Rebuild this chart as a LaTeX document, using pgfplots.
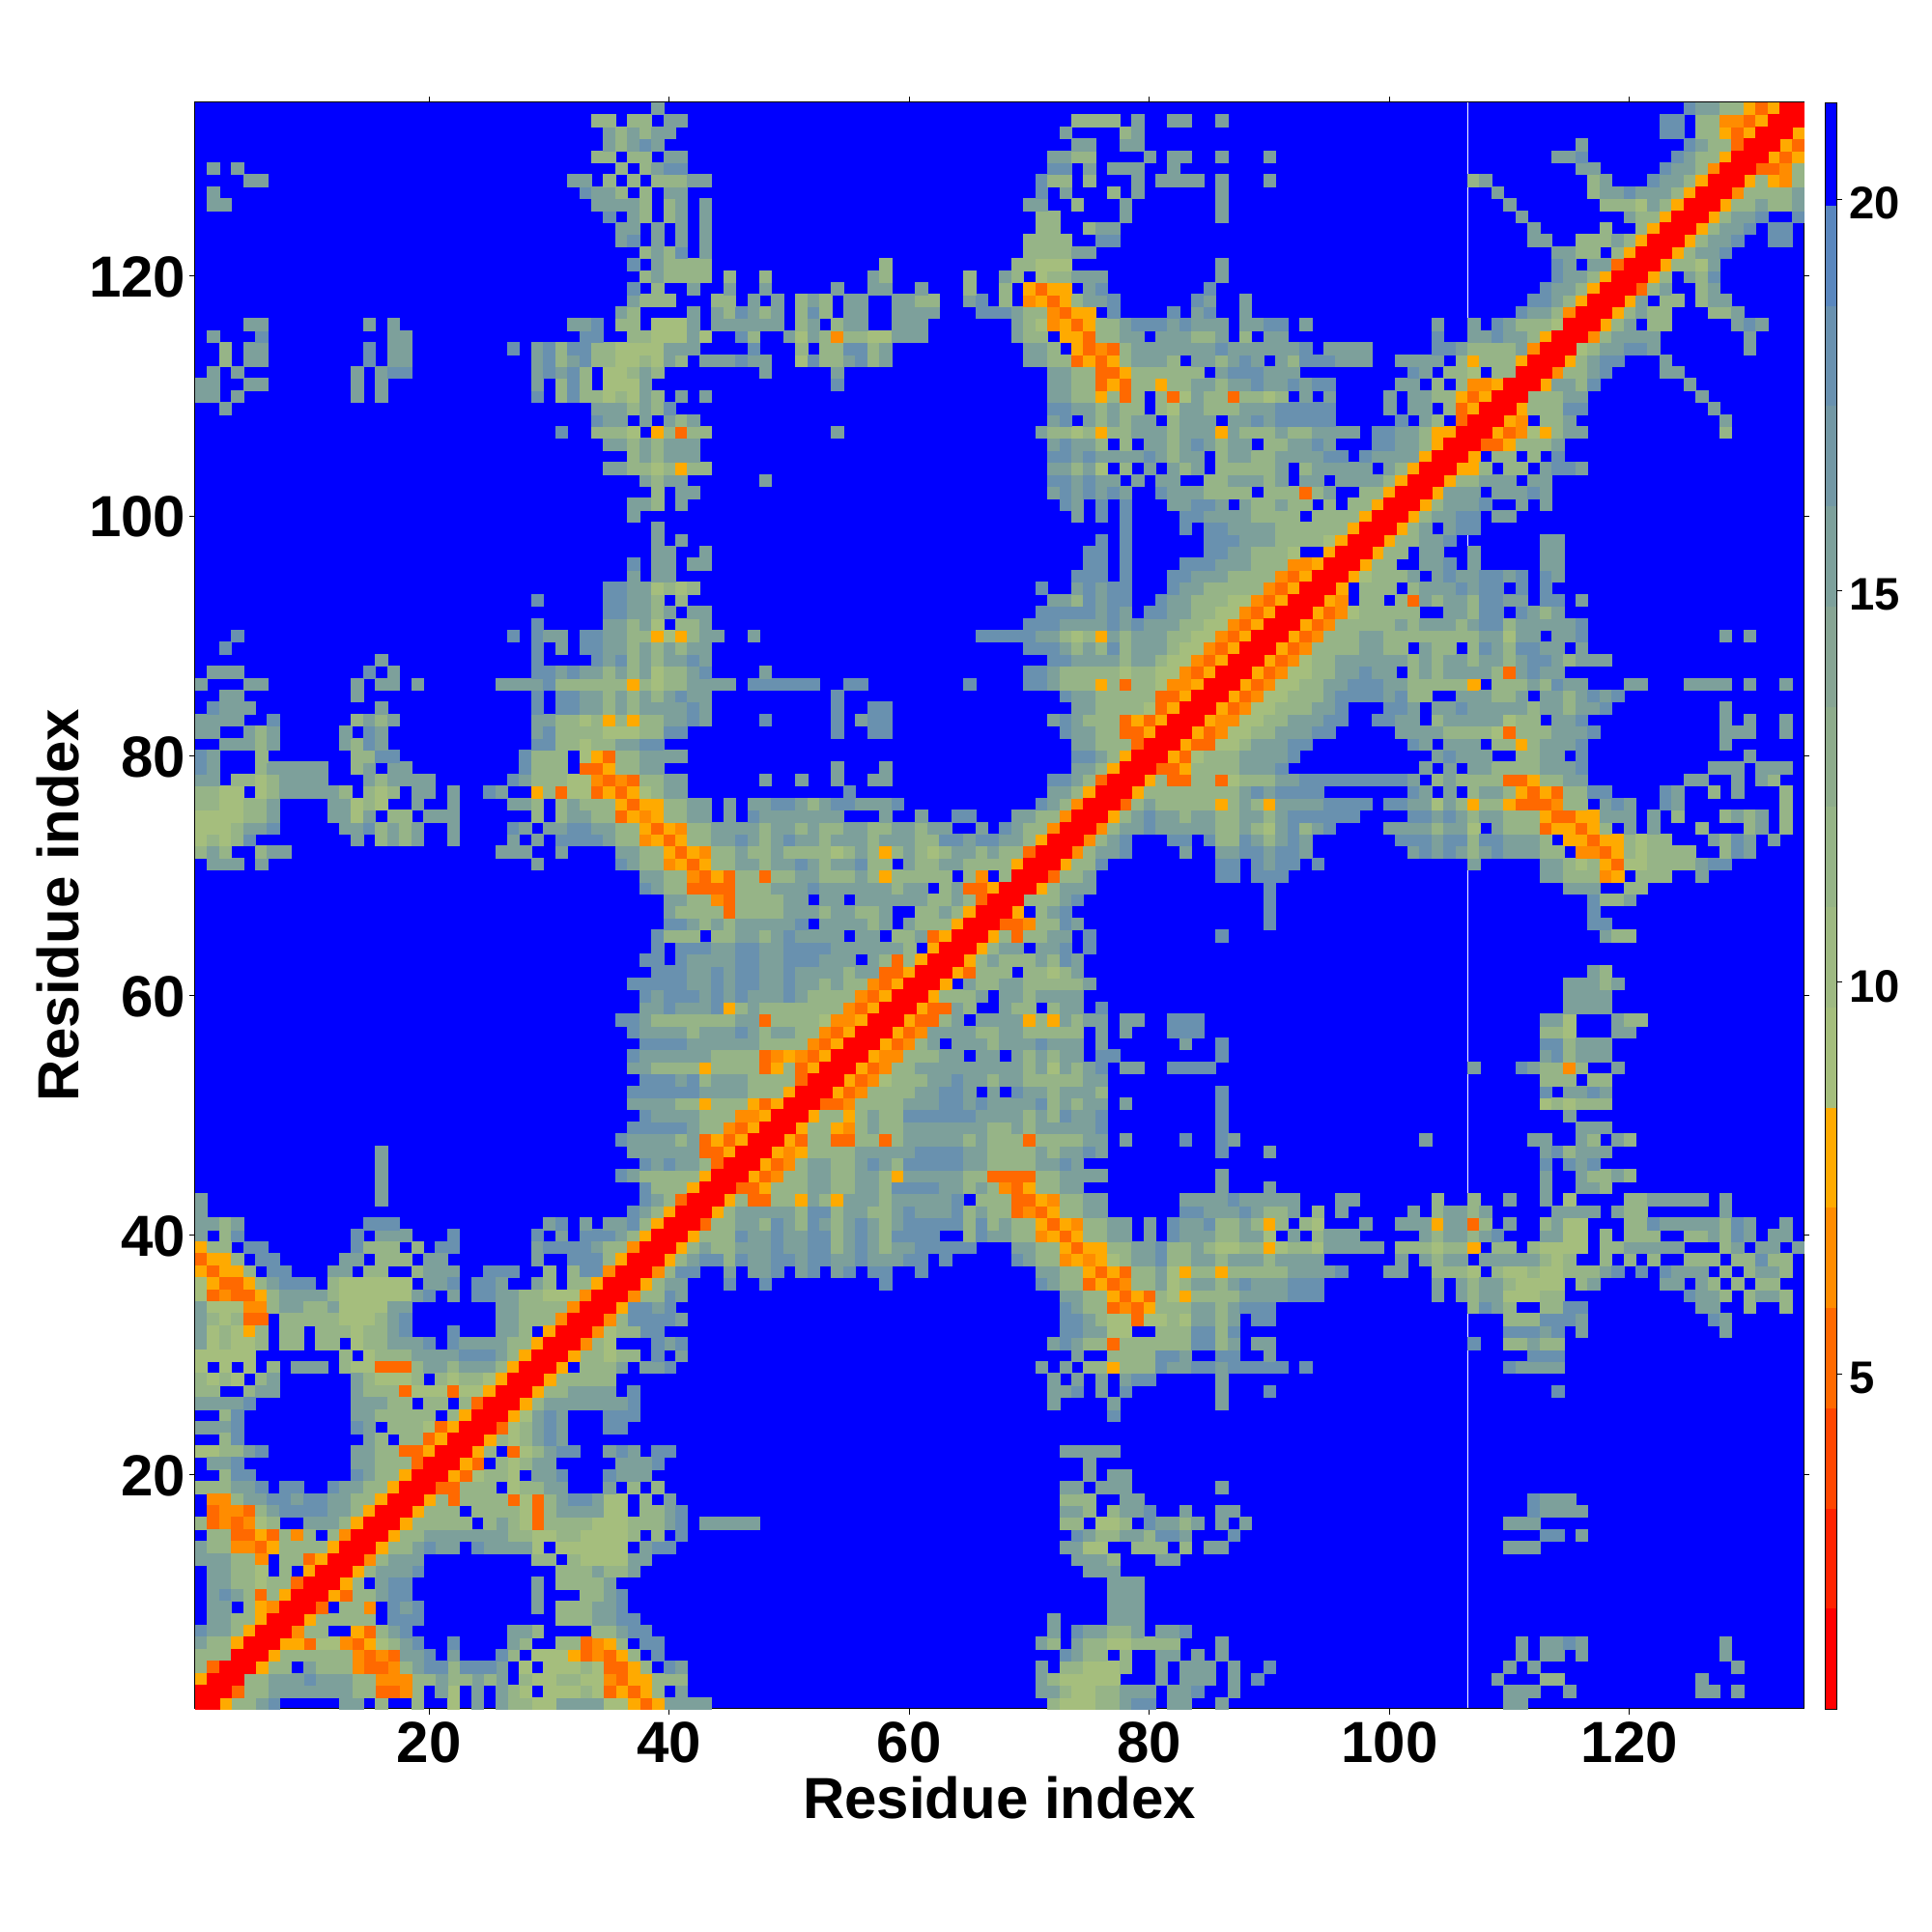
\documentclass[border=0pt]{standalone}
\usepackage{fontspec}
\setmainfont{Liberation Sans}
\usepackage{pgfplots}
\pgfplotsset{compat=1.18}

% distances are typed row by row, upper left triangle only (the map is symmetric)
% \R{y}{first x}{values}, 21 = blue = nothing to draw
\newcount\cx
\def\pts{}
\def\Rnext#1 {\ifx.#1\else\ifnum#1<21 \edef\rowp{\rowp (\the\cx,\ry) [#1] (\ry,\the\cx) [#1] }\fi\advance\cx by 1 \expandafter\Rnext\fi}
\def\R#1#2#3{\def\ry{#1}\cx=#2\relax\def\rowp{}\Rnext#3 . \xdef\pts{\pts\rowp}}
\newcount\cy
\def\Bnext#1 {\ifx.#1\else\cy=\cx\advance\cy by \bd\relax\edef\rowp{\rowp (\the\cx,\the\cy) [#1] (\the\cy,\the\cx) [#1] }\advance\cx by 1 \expandafter\Bnext\fi}
\def\B#1#2{\def\bd{#1}\cx=1\relax\def\rowp{}\Bnext#2 . \xdef\pts{\pts\rowp}}

% x = 1..40, y = 3..40
\R{40}{1}{15 21 12 18}\R{40}{14}{18 21 15 15 15 21 21 21 18}\R{40}{29}{18 21 15 21 18 18 18 15 12 8}
\R{39}{1}{8 12 12 21 18 18}\R{39}{14}{18 12 12 12 21 12 21 18 18}\R{39}{29}{15 18 18 18 18 15 12 12 6}
\R{38}{1}{5 8 8 12 21 18 18}\R{38}{13}{15 15 21 12 12 12 21 15 15}\R{38}{29}{15 21 21 18 18 18 12 8}
\R{37}{1}{8 5 8 8 12 21 18 18}\R{37}{12}{15 15 21 12 12 21 21 12 15 15 15 21 21 18 18 18 21 21 12 21 12 18 18 6}
\R{36}{1}{9 8 5 5 8 12 15 18 18 18 21 12 9 9 9 9 9 9 21 15 15 18 21 18 18 15 21 21 15 12 21 12 12 8}
\R{35}{1}{9 5 6 5 5 8 12 15 15 15 15 12 9 9 9 9 9 9 15 18 21 15 21 18 18 15 15 12 12 9 9 9 6}
\R{34}{1}{15 9 9 9 6 6 12 15 15 12 12 15 9 9 9 9 15 15}\R{34}{26}{15 15 12 12 12 12 6}
\R{33}{1}{15 12 9 12 5 5 21 12 12 12 12 12 9 9 9 12 15 18}\R{33}{26}{15 15 12 12 12 6}
\R{32}{1}{15 9 12 9 8 12 21 12 12 21 12 12 12 9 12 12 15 18}\R{32}{22}{18}\R{32}{26}{15 15 12 21 8}
\R{31}{1}{15 9 12 9 9 12 21 12 12 21 12 12 21 9 12 12 15 15 15 18 21 18 15 15 15 15 12 12 8}
\R{30}{1}{9 9 9 9 9}\R{30}{13}{12 21 9 12 12 12 15 15 15 15 18 18 18 15 12 8}
\R{29}{1}{9 21 9 21 9 21 12 21 15 15 15 21 12 9 9 5 5 5 12 15 15 12 15 15 15 12 8}
\R{28}{1}{12 9 12 9 21 12 15}\R{28}{14}{15 12 9 9 9 12 21 12 9 12 12 9 8}
\R{27}{1}{12 12 21 21 12 15 15}\R{27}{14}{15 12 12 12 5 9 9 9 5 9 9 8}
\R{26}{1}{15 15 15 15 18}\R{26}{14}{15 15 15 12 12 21 12 12 21 12 5}
\R{25}{1}{21 21 12 18}\R{25}{14}{15 15 12 12 12 12 12 21 12 8}
\R{24}{1}{15 15 15 18}\R{24}{14}{18 15 21 12 12 12 9 5 8}
\R{23}{1}{21 21 12 18}\R{23}{15}{15 12 21 12 12 5 8}
\R{22}{1}{9 9 12 12 15 18}\R{22}{14}{15 15 12 12 5 5 8}
\R{21}{1}{21 15 15 18}\R{21}{14}{15 15 12 12 12 5}
\R{20}{1}{21 21 12 18 18}\R{20}{14}{18 15 12 12 8}
\R{19}{1}{12 12 12 15 15 18 21 18 18 21 21 18 15 15 12 12 8}
\R{18}{1}{21 6 6 12 15 15 18 18 15 18 18 15 15 12 12 8}
\R{17}{1}{21 5 6 6 5 12 15 18 18 18 18 15 15 12 8}
\R{16}{1}{12 5 6 5 6 9 12 21 21 15 15 15 12 8}
\R{15}{1}{21 12 12 5 5 8 5 12 6 12 21 12 6}
\R{14}{1}{15 12 12 6 6 5 8 12 12 12 12 8}
\R{13}{1}{15 15 15 12 12 6 21 12 12 5 8}
\R{12}{1}{21 15 15 12 12 9 21 12 21 8}
\R{11}{1}{21 15 15 12 12 9 12 12 5}
\R{10}{1}{21 15 18 15 12 5 12 8}
\R{9}{1}{21 15 15 21 12 8 6}
\R{8}{1}{21 15 15 12 12 8}
\R{7}{1}{18 15 15 12 8}
\R{6}{1}{15 12 12 8}
\R{5}{1}{12 12 12}
\R{4}{1}{12 5}
\R{3}{1}{8}

% x = 1..39, y = 41..67
\R{41}{1}{15 15 12 15}\R{41}{15}{18 18 18}\R{41}{30}{15 18 21 15 21 15 15 18 12 8}
\R{42}{1}{15}\R{42}{37}{18 15 12}
\R{43}{1}{15}\R{43}{16}{15}\R{43}{38}{18 15}
\R{44}{16}{15}\R{44}{38}{18 12}
\R{45}{16}{15}\R{45}{36}{18 15 12 12}
\R{46}{16}{15}\R{46}{38}{18 15}
\R{47}{16}{15}\R{47}{37}{15 15 15}
\R{48}{36}{18 15 15 15}
\R{49}{37}{18 18 18}
\R{50}{38}{18 15}
\R{51}{37}{15 15 15}
\R{52}{37}{18 18 18}
\R{53}{38}{18 18}
\R{54}{37}{15 15 12}
\R{55}{37}{18 15 15}
\R{56}{38}{18 18}
\R{57}{37}{18 15 15}
\R{58}{36}{18 18 15 12}
\R{59}{38}{15 15}
\R{60}{38}{18 15}
\R{61}{37}{18 18 18}
\R{62}{39}{18}
\R{63}{38}{18 18}
\R{64}{39}{18}
\R{65}{39}{18}

% x = 1..40, y = 67..107
\R{67}{40}{15}
\R{68}{40}{15}
\R{69}{38}{18 15 12}
\R{70}{38}{15 15 12}
\R{71}{2}{15 15 15 21 15}\R{71}{29}{15}\R{71}{36}{18 15 12 12 6}
\R{72}{1}{12 15 12 21 21 12 15 15}\R{72}{26}{15 15 15 21 21 15}\R{72}{36}{15 15 12 12 8}
\R{73}{1}{9 12 9 12 18}\R{73}{14}{15 21 12 15 12 15 21 21 15}\R{73}{27}{15 21 15 21 18 18 18 18 15 12 12 6 8 5}
\R{74}{1}{9 9 9 12 15 15 18}\R{74}{13}{15 15 18 12 15 12 15 21 21 15}\R{74}{27}{18 15 21 15 15 18 18 15 15 12 12 8 5 8}
\R{75}{1}{9 9 9 9 12 12 15}\R{75}{12}{15 15 9 15 21 12 12 21 15 15 15}\R{75}{29}{12 21 12 15 15 12 12 5 8 6 8 12}
\R{76}{1}{12 12 9 9 12 12 15}\R{76}{12}{15 15 9 12 9 21 21 15 21 21 15}\R{76}{27}{15 15 12 21 12 15 12 12 12 8 5 8 8 12}
\R{77}{1}{12 12 9 9 21 9 12 15 15 15 15 15 12 21 12 9 12 21 15 15 21 15}\R{77}{25}{18 15 21 21 8 12 5 9 9 5 8 5 8 9 12 15}
\R{78}{1}{15 15 21 12 12 9 12 15 15 15 15}\R{78}{15}{15 12 15 15 15 15}\R{78}{27}{18 15 12 12 12 9 9 6 5 6 5 12 12 15}
\R{79}{1}{18 15 21 21 21 12 15 15 15 15 15}\R{79}{14}{12 15 21 15 15}\R{79}{28}{18 12 12 12 21 5 5 8 12 12 15 15}
\R{80}{1}{18 15}\R{80}{6}{12}\R{80}{14}{12 12 18 18}\R{80}{28}{18 12 12 12 21 9 8 5 12 12 15 15 18}
\R{81}{3}{15 15 15 12 15}\R{81}{13}{15 12 18 15}\R{81}{29}{18 18 12 12 9 12 12 15 15 18 18}
\R{82}{1}{15 15 21 21 15 12 15}\R{82}{13}{15 21 18 15}\R{82}{29}{15 18 12 12 12 12 9 9 9 12 12 18}
\R{83}{1}{15 15 15 15 21 21 18}\R{83}{14}{12 15 12 15}\R{83}{29}{15 15 12 12 9 12 8 12 8 12 12 15}
\R{84}{2}{18 15 15 15}\R{84}{16}{15}\R{84}{29}{18 21 18 18 15 15 12 15 12 15 15 18}
\R{85}{3}{15 15}\R{85}{14}{15}\R{85}{29}{18 21 18 18 15 15 12 15 12 15 12 18}
\R{86}{1}{15 21 21 21 15 15}\R{86}{14}{15 21 15 15 21 15}\R{86}{26}{15 15 15 15 18 12 12 12 12 12 12 8 12 9 12}
\R{87}{2}{15 15 15}\R{87}{15}{18 21 15}\R{87}{29}{18 18 15 18 15 15 12 15 12 15 9 12}
\R{88}{16}{15}\R{88}{29}{18 21 21 21 21 18 15 18 12 15 12 15}
\R{89}{3}{18}\R{89}{29}{18 21 15 21 18 18 15 15 12 15 12 15}
\R{90}{4}{18}\R{90}{27}{18 21 18 15 15 21 18 18 15 15 12 12 8 9}
\R{91}{29}{18}\R{91}{35}{15 15 12 15 9 21}
\R{92}{35}{18 18 15 15 12 15}
\R{93}{29}{18}\R{93}{35}{18 18 15 15 12}
\R{94}{35}{18 18 15 15 9 12}
\R{95}{37}{15 21 15 15}
\R{96}{37}{18 21 15 15}
\R{97}{39}{15 15}
\R{98}{39}{15}
\R{99}{39}{15}
\R{100}{37}{15}
\R{101}{37}{15 15 12}
\R{102}{39}{12}
\R{103}{38}{15 12 15}
\R{104}{35}{15 15 12 12 9 12}
\R{105}{37}{12 15 12 15}
\R{106}{35}{15 15 12 15 12 15}
\R{107}{31}{18 21 21 12 12 12 9 21 8 12}

% x = 1..40, y = 108..134
\R{108}{34}{18 15 15 21 15 21 15}
\R{109}{3}{15}\R{109}{34}{15 15 15 12 15 12 15}
\R{110}{1}{15 15 21 15}\R{110}{14}{15 21 15}\R{110}{29}{18 21 12 18 12 12 9 12 9 15 12}
\R{111}{1}{15 15 21 21 15 15}\R{111}{14}{15 21 15}\R{111}{29}{15 21 12 18 12 21 9 9 9 15}
\R{112}{2}{15 21 15}\R{112}{14}{15 21 15 18 18}\R{112}{29}{15 18 15 18 12 21 9 9 12 15 12}
\R{113}{3}{12 21 15 15}\R{113}{15}{18 21 15 15}\R{113}{29}{15 18 12 15 18 12 12 9 9 12 9 15}
\R{114}{3}{12 21 15 15}\R{114}{15}{18 21 15 15}\R{114}{27}{18 21 15 18 12 18 18 12 12 9 9 9 9 15}
\R{115}{2}{15 21 21 21 18}\R{115}{17}{15 15}\R{115}{33}{18 18 21 21 12 12 9 12}
\R{116}{5}{15 15}\R{116}{15}{15 21 15}\R{116}{32}{15 15 18 21 12 12 21 9 9}
\R{117}{36}{15 12}
\R{118}{37}{15 12 12 12}
\R{119}{37}{18 21 12}
\R{120}{38}{12 15 12}
\R{121}{37}{18 21 15 12}
\R{122}{38}{12 15 12}
\R{123}{36}{15 18 21 15}
\R{124}{36}{15 15 21 15}
\R{125}{35}{18 21 15 12 21 12}
\R{126}{2}{15 15}\R{126}{34}{15 15 15 15 12 21 12}
\R{127}{2}{15}\R{127}{33}{18 15 15 12 21 12 21 15}
\R{128}{5}{15 15}\R{128}{32}{15 15 21 12 21 12 21 12 12}
\R{129}{2}{15 21 15}\R{129}{36}{12 21 12 15 18}
\R{130}{34}{12 12 21 12 12 21 15}
\R{131}{35}{15 12 15 18 15}
\R{132}{35}{15 12 15 12 15 18}
\R{133}{34}{12 12 21 12 12 21 15}
\R{134}{39}{15}

% x = 40..79, y = 42..79
\R{42}{40}{8}
\R{43}{40}{12 5}
\R{44}{40}{12 12 8}
\R{45}{40}{12 12 12 8}
\R{46}{40}{18 15 15 12 5}
\R{47}{40}{15 15 15 5 5 8}
\R{48}{40}{15 12 15 5 8 5 8}
\R{49}{40}{18 18 15 12 12 6 5 8}
\R{50}{40}{15 15 15 12 12 12 6 6 8}
\R{51}{40}{15 12 12 8 12 12 12 8 5 8}
\R{52}{40}{18 18 18 15 15 15 15 12 12 12 8}
\R{53}{40}{18 15 18 12 15 15 15 12 12 12 12 5}
\R{54}{40}{12 12 12 8 12 12 12 12 5 8 12 5 8}
\R{55}{40}{15 15 15 15 12 12 12 12 5 6 8 6 5 8}
\R{56}{40}{18 18 15 15 15 15 15 15 12 12 12 12 6 5 8}
\R{57}{40}{15 15 12 15 15 15 18 15 12 15 15 12 12 6 5 8}
\R{58}{40}{12 12 12 12 12 12 15 15 5 12 12 12 12 9 6 6 8}
\R{59}{40}{18 15 15 15 18 8 12 15 12 12 12 12 12 12 12 6 5 8}
\R{60}{40}{18 18 18 15 18 15 18 15 15 15 18 15 12 12 12 12 6 5 8}
\R{61}{40}{18 18 15 15 18 15 18 18 15 15 18 15 15 12 15 12 12 6 5 8}
\R{62}{40}{18 18 15 15 18 15 18 18 15 15 18 15 15 15 15 12 15 15 5 5 8}
\R{63}{40}{21 18 15 15 15 15 18 18 15 15 18 18 18 15 15 15 21 15 12 5 12 8}
\R{64}{40}{21 18 18 18 15 15 18 18 15 15 18 18 18 18 15 15 15 15 15 15 12 21 8}
\R{65}{40}{12 12 12 21 12 12 15 15 12 15 18 15 15 15 15 21 15 15 21 12 12 15 5 8}
\R{66}{40}{18 18 15 12 15 12 15 15 15 15 15 18 21 15 15 15 15 12 15 21 15 12 12 12 8}
\R{67}{40}{15 12 12 12 12 5 12 12 12 12 15 15 15 12 15 15 12 12 15 21 21 12 12 15 12 8}
\R{68}{40}{15 15 12 12 6 5 12 12 12 12 15 15 21 15 15 21 15 15 15 15 15 15 12 12 15 12 5}
\R{69}{40}{12 12 5 5 5 5 12 12 12 15 15 15 18 15 15 15 15 15 15 12 15 15 21 12 15 5 5 8}
\R{70}{40}{12 12 6 5 8 5 12 12 5 12 12 15 15 12 12 12 15 12 8 12 12 12 12 12 21 12 6 21 12 12 12}
\R{71}{40}{6 8 5 8 12 12 15 15 12 15 15 18 15 12 15 15 18 12 12 21 15 12 12 15 15 12 12 12 12 8}
\R{72}{40}{8 5 8 6 12 12 15 12 12 15 12 12 12 12 9 12 15 12 8 12 15 12 9 12 15 15 12 15 12 12 5}
\R{73}{40}{5 8 12 12 15 15 18 15 12 15 18 15 15 12 15 15 15 12 15 15 15 12 12 18 18 15 18 18 15 15 12 8}
\R{74}{40}{8 6 12 12 15 15 15 15 12 15 15 12 15 12 12 15 15 12 12 15 15 12 15 15 21 21 15 21 18 15 12 12 6}
\R{75}{40}{12 12 15 15 21 15 21 18 15 15 15 15 15 15 15 21 21 21 15 21 21 15 21 21 18 18 21 21 21 15 15 12 12 6}
\R{76}{40}{12 12 15 15 21 15 21 15 15 18 18 15 12 15 18 18 15 15 15 18}\R{76}{71}{18 15 12 6}
\R{77}{40}{15 15}\R{77}{55}{18}\R{77}{72}{15 15 12 8}
\R{78}{40}{15 15}\R{78}{48}{15}\R{78}{51}{15}\R{78}{54}{15}\R{78}{57}{15 15}\R{78}{72}{18 18 15 12 5}
\R{79}{54}{15}\R{79}{58}{15}\R{79}{74}{15 15 12 8}

% x = 40..79, y = 80..134
\R{80}{40}{15 15}\R{80}{74}{18 18 15 12 8}
\R{81}{74}{15 15 12 12 12 5}
\R{82}{40}{18 18}\R{82}{54}{18}\R{82}{57}{18 18}\R{82}{73}{18 15 15 12 12 5 5}
\R{83}{40}{15 15 18 15}\R{83}{48}{18}\R{83}{54}{18}\R{83}{56}{15 18 18}\R{83}{72}{15 18 15 12 12 12 5 8}
\R{84}{40}{15 15 18 15}\R{84}{54}{18}\R{84}{57}{18 18}\R{84}{74}{15 15 12 12 12 12}
\R{85}{40}{15 18 15 15}\R{85}{54}{18}\R{85}{73}{18 15 15 12 12 12 12}
\R{86}{40}{12 12 15 15 15 15 21 18 18 18 18 18 18}\R{86}{55}{18 18}\R{86}{65}{18}\R{86}{70}{18 18 15 12 12 12 8 12 5 12}
\R{87}{40}{12 12 15 18}\R{87}{48}{15}\R{87}{70}{18 18 15 12 12 12 12 12 9 12}
\R{88}{40}{15 15 18 15}\R{88}{72}{18 18 15 15 15 15 12 15}
\R{89}{40}{15 12 15 15}\R{89}{70}{18 18 18 15 12 15 12 18 12 15}
\R{90}{40}{9 8 12 15 15}\R{90}{47}{15}\R{90}{66}{18 18 18 18 18 15 15 12 9 12 8 15 12 15}
\R{91}{41}{12 12 15}\R{91}{70}{18 18 18 15 15 15 15 18 15 18}
\R{92}{40}{15 21 15 15}\R{92}{71}{18 18 18 18 18 15 18 15}
\R{93}{41}{12}\R{93}{72}{15 15 12 18 15 18 18}
\R{94}{40}{12 9 12}\R{94}{71}{18 21 21 15 18 15 18 18}
\R{95}{40}{15}\R{95}{74}{18 18 18 21 18}
\R{96}{40}{15 21 15 15}\R{96}{75}{18 18 21 18}
\R{97}{40}{15 21 21 15}\R{97}{75}{18 18 21 18}
\R{98}{41}{15}\R{98}{76}{18 21 18}
\R{99}{78}{18}
\R{100}{74}{15 21 18 21 18}
\R{101}{41}{15}\R{101}{73}{18 15 21 18 21 18}
\R{102}{41}{15 15}\R{102}{72}{15 18 15 18 15 18 15}
\R{103}{40}{15 15}\R{103}{48}{15}\R{103}{72}{18 18 15 18 15 15 21 15}
\R{104}{40}{12 8 12 12}\R{104}{72}{15 15 12 15 9 21 12 21}
\R{105}{40}{15 15 15}\R{105}{72}{18 18 15 18 15 15 15 15}
\R{106}{40}{15 15 15}\R{106}{72}{15 18 15 15 12 21 12 21}
\R{107}{40}{12 5 12 12}\R{107}{54}{15}\R{107}{71}{15 12 12 9 12 8 12 12 15}
\R{108}{40}{15 12 15}\R{108}{72}{15 18 21 15 12 15 12 15}
\R{109}{40}{18}\R{109}{72}{18 18 15 15 12 15 12 12}
\R{110}{41}{15 21 15}\R{110}{72}{15 15 12 12 8 12 5 12}
\R{111}{54}{18}\R{111}{72}{15 15 12 12 5 8 5 12}
\R{112}{48}{15}\R{112}{54}{15}\R{112}{72}{15 15 12 12 5 5 8 12}
\R{113}{40}{15 12 21 15 15 15 18 15 15}\R{113}{51}{9 18 12 12 15 18 12 15}\R{113}{70}{15 15 12 12 5 8 5 8 12 15}
\R{114}{40}{15 15 15}\R{114}{47}{18}\R{114}{51}{12 21 12 12 18 18 12 15}\R{114}{70}{15 15 12 21 8 5 6 5 12 15}
\R{115}{40}{9 9 15 9}\R{115}{46}{18 12}\R{115}{50}{15 9 15 12 6 12 12 9 9 15 15 15}\R{115}{69}{15 12 12 21 8 8 5 12 12 15 15}
\R{116}{40}{9 9 15 21 15 15 15 15 15 15 21 12 15 21 12 15 15 21 21 15 15 15}\R{116}{69}{15 12 9 6 8 5 8 12 12 15 18}
\R{117}{42}{15 21 15 12 18 15 12 15 21 12 18 12 21 15 15 21 21 15 15 15 15}\R{117}{66}{18 18 18 15 12 12 6 5 8 8 21 18}
\R{118}{40}{12 21 21 21 12 12 21 15 21 15 21 12 15 12 21 15 15 21 21 15 15 12 12}\R{118}{65}{15 18 21 12 21 6 8 5 8 12 15 15 18}
\R{119}{42}{15 21 21 15 21 21 15}\R{119}{54}{15 21 21 15 15 21 21 15}\R{119}{65}{12 21 21 12 21 8 5 8 8 21 15 18}
\R{120}{40}{12 12 12 12 21 12 21 21 12}\R{120}{57}{15 12}\R{120}{65}{12 21 21 15 12 21 9 12 12 15 15 15}
\R{121}{40}{12 12 12 12}\R{121}{58}{12}\R{121}{69}{12 12 9 9 9}
\R{122}{40}{12 18 21 15}\R{122}{70}{12 12 12 12 15 15}
\R{123}{41}{15 21 15}\R{123}{70}{12 12 12 12 21 21 18 18}
\R{124}{41}{15 21 15}\R{124}{71}{12 12 21 21 12 15 15}
\R{125}{40}{12 15 21 15}\R{125}{71}{12 12}\R{125}{78}{15}
\R{126}{40}{12 15 21 15}\R{126}{70}{15 15 21 21 12 21 21 21 15}
\R{127}{40}{15 15}\R{127}{71}{18 21 15 21 21 21 12 21 15}
\R{128}{40}{12 12 15 15}\R{128}{71}{18 12 12 21 12 21 21 21 15}
\R{129}{40}{18 18}\R{129}{72}{18 18 21 15 21 15 15 15}
\R{130}{40}{15 15}\R{130}{72}{15 15 12 12}\R{130}{80}{15}
\R{131}{74}{15 15 21 21 15 15}
\R{132}{40}{15}\R{132}{73}{15 21 21 21 21 12 15}
\R{133}{40}{15 15}\R{133}{74}{12 12 12 12 21 15}

% x = 80..134, y = 80..134
\R{82}{80}{8}
\R{83}{80}{5 8}
\R{84}{80}{9 5 8}
\R{85}{80}{12 5 5 8}
\R{86}{80}{12 9 6 6 8}
\R{87}{80}{12 9 9 6 5 8}
\R{88}{80}{15 12 9 9 6 5 8}
\R{89}{80}{15 15 12 9 9 6 5 8}
\R{90}{80}{15 15 12 12 9 9 6 5 8}
\R{91}{80}{15 15 15 12 12 9 9 6 5 8}
\R{92}{80}{18 18 15 15 12 12 9 9 6 5 8}
\R{93}{81}{18 15 15 12 12 12 9 9 6 5 8}
\R{94}{82}{18 15 15 12 12 12 12 12 6 5 8}
\R{95}{82}{18 18 15 15 15 12 12 12 12 6 5 8}
\R{96}{83}{18 18 18 15 15 15 12 12 12 6 6 8}
\R{97}{85}{18 18 15 15 12 12 12 9 21 21 8}
\R{98}{85}{18 18 18 15 15 15 12 12 12 12 9 8}
\R{99}{83}{18 21 18 18 15 15 15 15 12 12 12 12 12 12 8}
\R{100}{83}{18 18 15 15 15 15 12 12 12 12 21 12 12 12 12 8}
\R{101}{82}{15 15 18 18 15 21 15 12 12 15 12 12 21 12 21 12 12 8}
\R{102}{81}{18 15 15 15 12 12 12 12 21 12 12 12 5 12 15 21 21 12 12 8}
\R{103}{81}{15 15 21 21 12 12 15 15 15 12 15 21 15 15 21 15 15 15 15 12 8}
\R{104}{80}{15 21 15 12 15 21 12 12 12 12 12 15 21 12 15 15 15 15 15 21 15 12 8}
\R{105}{80}{18 15 12 15 15 21 12 15 15 12 12 15 15 15 15 18 18 21 18 15 15 15 15 8}
\R{106}{80}{15 15 12 15 18 15 12 15 15 21 12 12 15 15 18 15 21 21 21 18 18 15 15 12 8}
\R{107}{80}{15 15 12 15 15 15 8 15 12 12 12 15 12 12 15 15 15 15 21 18 18 15 15 12 8 8}
\R{108}{80}{15 21 12 15 15 15 21 15 15 18 15 18 18 18 18 18}\R{108}{101}{18 21 15 12 21 5}
\R{109}{80}{21 12 9 15 15 12 12 12 15 15 15 18 18 18 18 18}\R{109}{100}{15 21 15 15 21 12 5 8}
\R{110}{81}{12 5 9 15 12 12 5 12 12 9 12 21 15 21 15}\R{110}{100}{15 21 15 15 12 12 8 5 8}
\R{111}{80}{12 8 12 12 15 15 12 15 15 18 15 15 18 15 18 18}\R{111}{101}{15 15 21 12 21 12 6 6 8}
\R{112}{80}{12 12 12 12 12 21 15 18 18 18 15 15 15}\R{112}{102}{18 15 21 12 12 9 21 12 12}
\R{113}{80}{15 15 12 21 15 15 12 15 18 15 21 15 12 18 18 18 15 15 15}\R{113}{101}{15 15 15 15 21 12 8 12 12 12 8}
\R{114}{80}{15 15 15 15 15 15 18 15 15 15 15 15 15 18}\R{114}{95}{15 15 15 15}\R{114}{104}{18 18 15 12 12 12 12 15 6}
\R{115}{81}{15 15 15 12 12 15 21 12 21 15 15}\R{115}{104}{18}\R{115}{107}{15 15 18 15 15 12 8}
\R{116}{80}{18 18 15 18 15 15 15 21 15 15 18 18 21 15}\R{116}{104}{15}\R{116}{107}{15 21 18 15 12 12 12 9}
\R{117}{82}{18 21 15 18}\R{117}{88}{15}\R{117}{111}{18 15 15 12 6}
\R{118}{84}{18 15}\R{118}{88}{15}\R{118}{112}{18 18 15 12 8}
\R{119}{85}{18}\R{119}{113}{18 15 15 12 8}
\R{120}{86}{15}\R{120}{114}{18 15 15 12 8}
\R{121}{86}{15}\R{121}{114}{18 15 21 15 15 5}
\R{122}{114}{15 15 12 12 21 12 8}
\R{123}{112}{15 15 21 21 12 12 12 15 12 8}
\R{124}{112}{15}\R{124}{118}{12 21 21 12 8}
\R{125}{86}{15}\R{125}{111}{15}\R{125}{120}{15 12 12 8}
\R{126}{86}{15}\R{126}{110}{15}\R{126}{118}{12 12 12 9 15 12 8}
\R{127}{86}{15}\R{127}{109}{15}\R{127}{117}{12 15 15 18 15 15 15 12 8}
\R{128}{81}{15 15 15 15 21 15}\R{128}{90}{15}\R{128}{107}{12 15}\R{128}{117}{12 15}\R{128}{122}{18 15 15 12 8}
\R{129}{82}{15}\R{129}{116}{15 15}\R{129}{123}{18 15 15 12 6}
\R{130}{80}{15 21 15 15 21 21 15}\R{130}{90}{15}\R{130}{114}{15 15 18}\R{130}{124}{18 15 12 12 8}
\R{131}{116}{15}\R{131}{125}{18 15 12 12 5}
\R{132}{123}{18 18 21 12 12 8 5 8}
\R{133}{82}{15 15}\R{133}{86}{15}\R{133}{123}{18 18 21 12 12 6 6 5 8}
\R{134}{125}{18 15 15 12 12 8 5 8}

% the red band along the diagonal, offsets 0 and 1
\B{0}{1 1 1 1 1 1 1 1 1 1 1 1 1 1 1 1 1 1 1 1 1 1 1 1 1 1 1 1 1 1 1 1 1 1 1 1 1 1 1 1 1 1 1 1 1 1 1 1 1 1 1 1 1 1 1 1 1 1 1 1 1 1 1 1 1 1 1 1 1 1 1 1 1 1 1 1 1 1 1 1 1 1 1 1 1 1 1 1 1 1 1 1 1 1 1 1 1 1 1 1 1 1 1 1 1 1 1 1 1 1 1 1 1 1 1 1 1 1 1 1 1 1 1 1 1 1 1 1 1 1 1 1 1 1}
\B{1}{1 1 1 1 1 1 1 1 1 1 1 1 1 1 1 1 1 1 1 1 1 1 1 1 1 1 1 1 1 1 1 1 1 1 1 1 1 1 1 1 1 1 1 1 1 1 1 1 1 1 1 1 1 1 1 1 1 1 1 1 1 1 1 1 1 1 1 1 1 1 1 1 1 1 1 1 1 1 1 1 1 1 1 1 1 1 1 1 1 1 1 1 1 1 1 1 1 1 1 1 1 1 1 1 1 1 1 1 1 1 1 1 1 1 1 1 1 1 1 1 1 1 1 1 1 1 1 1 1 1 1 1 1}

\pgfplotsset{cellmarks/.style={only marks,scatter,mark=square*,mark size=1.56pt,
  mark options={line width=0.02pt},
  point meta=explicit,scatter/use mapped color={draw=mapped color,fill=mapped color}}}

\definecolor{c1}{RGB}{255,0,0}\definecolor{c2}{RGB}{255,35,0}\definecolor{c3}{RGB}{255,70,0}\definecolor{c4}{RGB}{255,105,0}
\definecolor{c5}{RGB}{255,140,0}\definecolor{c6}{RGB}{255,170,0}\definecolor{c7}{RGB}{165,190,125}\definecolor{c8}{RGB}{158,185,130}
\definecolor{c9}{RGB}{150,180,135}\definecolor{c10}{RGB}{142,172,140}\definecolor{c11}{RGB}{135,165,148}\definecolor{c12}{RGB}{125,160,155}
\definecolor{c13}{RGB}{115,152,165}\definecolor{c14}{RGB}{105,145,175}\definecolor{c15}{RGB}{90,135,190}\definecolor{c16}{RGB}{0,0,255}

\begin{document}
\begin{tikzpicture}
\useasboundingbox (0,0) rectangle (500pt,500pt);
\begin{axis}[
  at={(50.5pt,57.75pt)},anchor=south west,
  scale only axis,width=416.25pt,height=415.75pt,
  xmin=0.5,xmax=134.5,ymin=0.5,ymax=134.5,
  xtick={20,40,60,80,100,120},ytick={20,40,60,80,100,120},
  tick align=outside,xtick pos=both,ytick pos=both,
  xticklabel pos=bottom,yticklabel pos=left,
  major tick length=1.4pt,tick style={line width=0.25pt,black},
  axis line style={line width=0.25pt},
  axis on top,clip mode=global,
  axis background/.style={fill=blue},
  /pgf/number format/assume math mode=true,
  ticklabel style={font=\fontsize{15}{15}\selectfont\bfseries},
  yticklabel style={xshift=2.5pt,yshift=-0.3pt},
  xticklabel style={yshift=1.6pt},
  xlabel={Residue index},ylabel={Residue index},
  label style={font=\fontsize{15}{15}\selectfont\bfseries},
  xlabel style={at={(axis description cs:0.5,0)},anchor=center,yshift=-23pt},
  ylabel style={at={(axis description cs:0,0.5)},anchor=center,yshift=35.5pt},
  % one node per integer distance 1..21, so every cell gets its band colour exactly
  colormap={dist}{rgb255=(255,0,0) rgb255=(255,0,0) rgb255=(255,35,0) rgb255=(255,70,0) rgb255=(255,105,0) rgb255=(255,140,0) rgb255=(255,140,0) rgb255=(255,170,0)
    rgb255=(165,190,125) rgb255=(158,185,130) rgb255=(150,180,135) rgb255=(150,180,135) rgb255=(142,172,140) rgb255=(135,165,148) rgb255=(125,160,155) rgb255=(125,160,155)
    rgb255=(115,152,165) rgb255=(105,145,175) rgb255=(90,135,190) rgb255=(0,0,255) rgb255=(0,0,255)},
  point meta min=1,point meta max=21,
]
\edef\doplot{\noexpand\addplot[cellmarks] coordinates {\pts};}
\doplot
\addplot[white,line width=0.3pt,forget plot] coordinates {(106.5,0.5) (106.5,134.5)};
\end{axis}
% colour key: one band per contour level
\begin{axis}[
  at={(472.25pt,57.75pt)},anchor=south west,
  scale only axis,width=3.2pt,height=415.75pt,
  xmin=0,xmax=1,ymin=0.72,ymax=21.24,
  xtick=\empty,ytick={5,10,15,20},
  tick align=outside,ytick pos=right,yticklabel pos=right,
  major tick length=1.2pt,tick style={line width=0.25pt,black},
  axis line style={line width=0.2pt},axis on top,
  /pgf/number format/assume math mode=true,
  yticklabel style={font=\fontsize{11.8}{11.8}\selectfont\bfseries,xshift=-1.6pt,yshift=-1pt},
]
\addplot[fill=c1,draw=none] coordinates {(0,0.72) (1,0.72) (1,2) (0,2)} --cycle;
\addplot[fill=c2,draw=none] coordinates {(0,2) (1,2) (1,3.28) (0,3.28)} --cycle;
\addplot[fill=c3,draw=none] coordinates {(0,3.28) (1,3.28) (1,4.56) (0,4.56)} --cycle;
\addplot[fill=c4,draw=none] coordinates {(0,4.56) (1,4.56) (1,5.84) (0,5.84)} --cycle;
\addplot[fill=c5,draw=none] coordinates {(0,5.84) (1,5.84) (1,7.12) (0,7.12)} --cycle;
\addplot[fill=c6,draw=none] coordinates {(0,7.12) (1,7.12) (1,8.4) (0,8.4)} --cycle;
\addplot[fill=c7,draw=none] coordinates {(0,8.4) (1,8.4) (1,9.68) (0,9.68)} --cycle;
\addplot[fill=c8,draw=none] coordinates {(0,9.68) (1,9.68) (1,10.96) (0,10.96)} --cycle;
\addplot[fill=c9,draw=none] coordinates {(0,10.96) (1,10.96) (1,12.24) (0,12.24)} --cycle;
\addplot[fill=c10,draw=none] coordinates {(0,12.24) (1,12.24) (1,13.52) (0,13.52)} --cycle;
\addplot[fill=c11,draw=none] coordinates {(0,13.52) (1,13.52) (1,14.8) (0,14.8)} --cycle;
\addplot[fill=c12,draw=none] coordinates {(0,14.8) (1,14.8) (1,16.08) (0,16.08)} --cycle;
\addplot[fill=c13,draw=none] coordinates {(0,16.08) (1,16.08) (1,17.36) (0,17.36)} --cycle;
\addplot[fill=c14,draw=none] coordinates {(0,17.36) (1,17.36) (1,18.64) (0,18.64)} --cycle;
\addplot[fill=c15,draw=none] coordinates {(0,18.64) (1,18.64) (1,19.92) (0,19.92)} --cycle;
\addplot[fill=c16,draw=none] coordinates {(0,19.92) (1,19.92) (1,21.24) (0,21.24)} --cycle;
\end{axis}
\end{tikzpicture}
\end{document}
